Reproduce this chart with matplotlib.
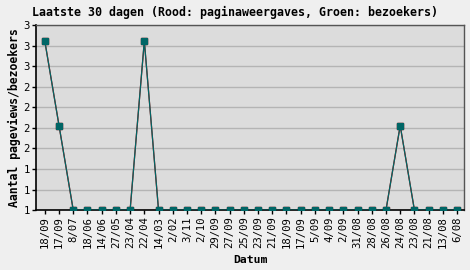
import matplotlib
matplotlib.use("Agg")
import matplotlib.pyplot as plt
import numpy as np

# Data (x categories are dates, left to right)
dates = ["18/09", "17/09", "8/07", "18/06", "14/06", "27/05", "23/04", "22/04",
         "14/03", "2/02", "3/11", "2/10", "29/09", "27/09", "25/09", "23/09",
         "21/09", "18/09", "17/09", "5/09", "4/09", "2/09", "31/08", "28/08",
         "26/08", "24/08", "23/08", "21/08", "13/08", "6/08"]
pageviews = [3, 2, 1, 1, 1, 1, 1, 3, 1, 1, 1, 1, 1, 1, 1, 1,
             1, 1, 1, 1, 1, 1, 1, 1, 1, 2, 1, 1, 1, 1]
visitors = [3, 2, 1, 1, 1, 1, 1, 3, 1, 1, 1, 1, 1, 1, 1, 1,
            1, 1, 1, 1, 1, 1, 1, 1, 1, 2, 1, 1, 1, 1]

plt.rcParams.update({
    "font.family": "DejaVu Sans Mono",
    "figure.dpi": 100,
    "savefig.dpi": 100,
})

TEAL = "#006666"

fig = plt.figure(figsize=(4.7, 2.7), facecolor="#efefef")
ax = fig.add_axes([0.0766, 0.222, 0.911, 0.685], facecolor="#dcdcdc")

x = np.arange(len(dates))
ax.plot(x, pageviews, color="#cc0000", lw=0.9, marker="s", ms=4.5, zorder=2)
ax.plot(x, visitors, color=TEAL, lw=0.9, marker="s", ms=4.5, zorder=3)

ymin, ymax = 1, 3.19
yticks = np.linspace(ymin, ymax, 10)
ax.set_ylim(ymin, ymax)
ax.set_yticks(yticks)
ax.set_yticklabels([f"{v:.0f}" for v in yticks])
ax.yaxis.grid(True, color="#b4b4b4", lw=1.0)
ax.set_axisbelow(True)

ax.set_xlim(-0.62, len(dates) - 0.5)
ax.set_xticks(x)
ax.set_xticklabels(dates, rotation=90)

ax.tick_params(axis="both", labelsize=7.7, length=3, width=1, color="black", pad=1.5)
for side in ["top", "right"]:
    ax.spines[side].set_color("#555555")
    ax.spines[side].set_linewidth(1.0)
for side in ["left", "bottom"]:
    ax.spines[side].set_color("black")
    ax.spines[side].set_linewidth(1.2)

ax.set_xlabel("Datum", fontsize=8.2, fontweight="bold", labelpad=5)
ax.set_ylabel("Aantal pageviews/bezoekers", fontsize=8.3, fontweight="bold", labelpad=2)
fig.text(0.5, 0.955, "Laatste 30 dagen (Rood: paginaweergaves, Groen: bezoekers)",
         ha="center", va="center", fontsize=8.35, fontweight="bold")

fig.savefig("out.png", facecolor=fig.get_facecolor())
